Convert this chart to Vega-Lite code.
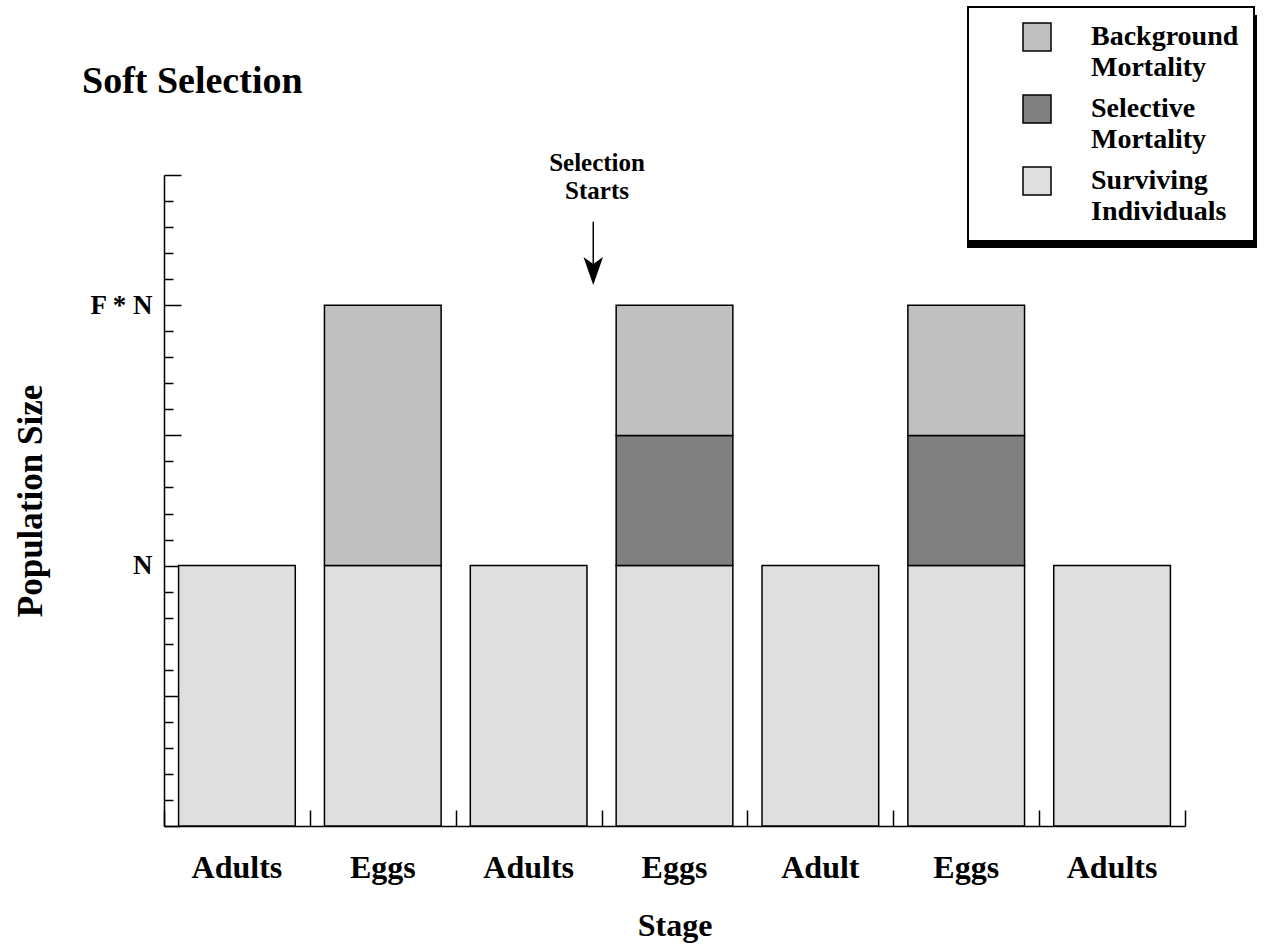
{
  "$schema": "https://vega.github.io/schema/vega-lite/v6.json",
  "width": 1021,
  "height": 651,
  "autosize": "none",
  "padding": {"left": 164, "top": 175, "right": 96, "bottom": 122},
  "background": "white",
  "title": {
    "text": "Soft Selection",
    "anchor": "start",
    "frame": "group",
    "font": "Liberation Serif",
    "fontSize": 38,
    "fontWeight": "bold",
    "color": "black",
    "dx": -82,
    "dy": 129,
    "baseline": "alphabetic"
  },
  "data": {
    "values": [
      {"slot": "1 Adults", "category": "Surviving Individuals", "count": 2},
      {"slot": "2 Eggs", "category": "Surviving Individuals", "count": 2},
      {"slot": "2 Eggs", "category": "Background Mortality", "count": 2},
      {"slot": "3 Adults", "category": "Surviving Individuals", "count": 2},
      {"slot": "4 Eggs", "category": "Surviving Individuals", "count": 2},
      {"slot": "4 Eggs", "category": "Selective Mortality", "count": 1},
      {"slot": "4 Eggs", "category": "Background Mortality", "count": 1},
      {"slot": "5 Adult", "category": "Surviving Individuals", "count": 2},
      {"slot": "6 Eggs", "category": "Surviving Individuals", "count": 2},
      {"slot": "6 Eggs", "category": "Selective Mortality", "count": 1},
      {"slot": "6 Eggs", "category": "Background Mortality", "count": 1},
      {"slot": "7 Adults", "category": "Surviving Individuals", "count": 2}
    ]
  },
  "config": {
    "view": {"stroke": null},
    "font": "Liberation Serif",
    "axis": {
      "domainColor": "black",
      "tickColor": "black",
      "labelColor": "black",
      "titleColor": "black",
      "domainWidth": 1.5,
      "tickWidth": 1.5,
      "grid": false
    },
    "legend": {
      "orient": "none",
      "title": null,
      "direction": "vertical",
      "symbolType": "square",
      "symbolStrokeColor": "black",
      "symbolStrokeWidth": 1.5,
      "symbolOpacity": 1,
      "labelFont": "Liberation Serif",
      "labelFontSize": 28,
      "labelFontWeight": "bold",
      "labelColor": "black",
      "labelLimit": 500,
      "padding": 15,
      "strokeColor": "black",
      "rowPadding": 10
    }
  },
  "resolve": {
    "scale": {"x": "independent", "y": "independent", "color": "independent"},
    "axis": {"x": "independent", "y": "independent"},
    "legend": {"color": "independent"}
  },
  "layer": [
    {
      "mark": {"type": "bar", "stroke": "black", "strokeWidth": 1.5},
      "encoding": {
        "x": {
          "field": "slot",
          "type": "ordinal",
          "scale": {"paddingInner": 0.2, "paddingOuter": 0.1},
          "axis": {
            "orient": "bottom",
            "labelExpr": "split(datum.label, ' ')[1]",
            "labelAngle": 0,
            "ticks": false,
            "tickSize": 0,
            "domain": false,
            "labelPadding": 26,
            "labelBaseline": "top",
            "labelFont": "Liberation Serif",
            "labelFontSize": 32,
            "labelFontWeight": "bold",
            "title": "Stage",
            "titleFont": "Liberation Serif",
            "titleFontSize": 32,
            "titleFontWeight": "bold",
            "titleX": 510.5,
            "titleY": 109,
            "titleBaseline": "alphabetic",
            "titleAlign": "center"
          }
        },
        "y": {
          "field": "count",
          "type": "quantitative",
          "stack": "zero",
          "scale": {"domain": [0, 5], "nice": false},
          "axis": {
            "orient": "left",
            "values": [2, 4],
            "labelExpr": "datum.value == 2 ? 'N' : 'F * N'",
            "ticks": false,
            "tickSize": 0,
            "domain": false,
            "labelPadding": 12,
            "labelFont": "Liberation Serif",
            "labelFontSize": 27,
            "labelFontWeight": "bold",
            "title": "Population Size",
            "titleFont": "Liberation Serif",
            "titleFontSize": 35,
            "titleFontWeight": "bold",
            "titleAngle": -90,
            "titleX": -123,
            "titleY": 325.5,
            "titleBaseline": "alphabetic",
            "titleAlign": "center"
          }
        },
        "color": {
          "field": "category",
          "type": "nominal",
          "scale": {
            "domain": ["Background Mortality", "Selective Mortality", "Surviving Individuals"],
            "range": ["#c0c0c0", "#808080", "#dfdfdf"]
          },
          "legend": {
            "legendX": 804,
            "legendY": -159,
            "labelExpr": "''",
            "symbolSize": 2981,
            "symbolOffset": 199,
            "labelOffset": 0,
            "fillColor": "black",
            "encode": {
              "legend": {"update": {"strokeWidth": {"value": 2}}},
              "symbols": {"update": {"fill": {"value": "black"}}}
            }
          }
        },
        "order": {"field": "category", "sort": "descending"}
      }
    },
    {
      "mark": {"type": "point", "filled": true, "opacity": 0},
      "encoding": {
        "x": {
          "field": "count",
          "type": "quantitative",
          "scale": {"domain": [0.5, 7.5], "nice": false, "zero": false},
          "axis": {
            "orient": "bottom",
            "values": [0.5, 1.5, 2.5, 3.5, 4.5, 5.5, 6.5, 7.5],
            "labels": false,
            "tickSize": -16,
            "domain": true,
            "title": null
          }
        },
        "y": {
          "field": "count",
          "type": "quantitative",
          "scale": {"domain": [0, 5], "nice": false},
          "axis": {
            "orient": "left",
            "values": [0, 1, 2, 3, 4, 5],
            "labels": false,
            "tickSize": -17,
            "domain": true,
            "title": null
          }
        },
        "color": {
          "field": "category",
          "type": "nominal",
          "scale": {
            "domain": ["Background Mortality", "Selective Mortality", "Surviving Individuals"],
            "range": ["#c0c0c0", "#808080", "#dfdfdf"]
          },
          "legend": {
            "legendX": 804,
            "legendY": -168,
            "labelExpr": "split(datum.label, ' ')",
            "symbolSize": 784,
            "symbolOffset": 39,
            "labelOffset": 39,
            "fillColor": "white",
            "encode": {
              "legend": {"update": {"strokeWidth": {"value": 2}}},
              "labels": {"update": {"lineHeight": {"value": 31}}},
              "symbols": {"update": {"opacity": {"value": 1}, "stroke": {"value": "black"}, "strokeWidth": {"value": 1.5}}}
            }
          }
        }
      }
    },
    {
      "mark": {"type": "point", "opacity": 0},
      "encoding": {
        "x": {
          "field": "count",
          "type": "quantitative",
          "scale": {"domain": [0.5, 7.5], "nice": false, "zero": false},
          "axis": {
            "orient": "bottom",
            "values": [0.7, 0.9, 1.1, 1.3, 1.7, 1.9, 2.1, 2.3, 2.7, 2.9, 3.1, 3.3, 3.7, 3.9, 4.1, 4.3, 4.7, 4.9, 5.1, 5.3, 5.7, 5.9, 6.1, 6.3, 6.7, 6.9, 7.1, 7.3],
            "labels": false,
            "tickSize": -8,
            "domain": false,
            "title": null
          }
        },
        "y": {
          "field": "count",
          "type": "quantitative",
          "scale": {"domain": [0, 5], "nice": false},
          "axis": {
            "orient": "left",
            "values": [0.2, 0.4, 0.6, 0.8, 1.2, 1.4, 1.6, 1.8, 2.2, 2.4, 2.6, 2.8, 3.2, 3.4, 3.6, 3.8, 4.2, 4.4, 4.6, 4.8],
            "labels": false,
            "tickSize": -9,
            "domain": false,
            "title": null
          }
        }
      }
    },
    {
      "data": {"values": [{"note": "Selection Starts", "xpos": 3.469, "level": 5.03}]},
      "mark": {
        "type": "text",
        "font": "Liberation Serif",
        "fontSize": 25,
        "fontWeight": "bold",
        "color": "black",
        "align": "center",
        "baseline": "alphabetic",
        "lineBreak": " ",
        "lineHeight": 28
      },
      "encoding": {
        "x": {"field": "xpos", "type": "quantitative", "scale": {"domain": [0.5, 7.5], "nice": false, "zero": false}, "axis": null},
        "y": {"field": "level", "type": "quantitative", "scale": {"domain": [0, 5], "nice": false}, "axis": null},
        "text": {"field": "note"}
      }
    },
    {
      "data": {"values": [{"xpos": 3.443, "start": 4.641, "end": 4.263}]},
      "layer": [
        {
          "mark": {"type": "rule", "color": "black", "strokeWidth": 1.5},
          "encoding": {
            "x": {"field": "xpos", "type": "quantitative", "scale": {"domain": [0.5, 7.5], "nice": false, "zero": false}, "axis": null},
            "y": {"field": "start", "type": "quantitative", "scale": {"domain": [0, 5], "nice": false}, "axis": null},
            "y2": {"field": "end"}
          }
        },
        {
          "mark": {"type": "point", "shape": "M0,1L-0.7,-1L0,-0.5L0.7,-1Z", "size": 784, "filled": true, "color": "black", "opacity": 1},
          "encoding": {
            "x": {"field": "xpos", "type": "quantitative", "scale": {"domain": [0.5, 7.5], "nice": false, "zero": false}, "axis": null},
            "y": {"field": "end", "type": "quantitative", "scale": {"domain": [0, 5], "nice": false}, "axis": null}
          }
        }
      ]
    }
  ]
}
